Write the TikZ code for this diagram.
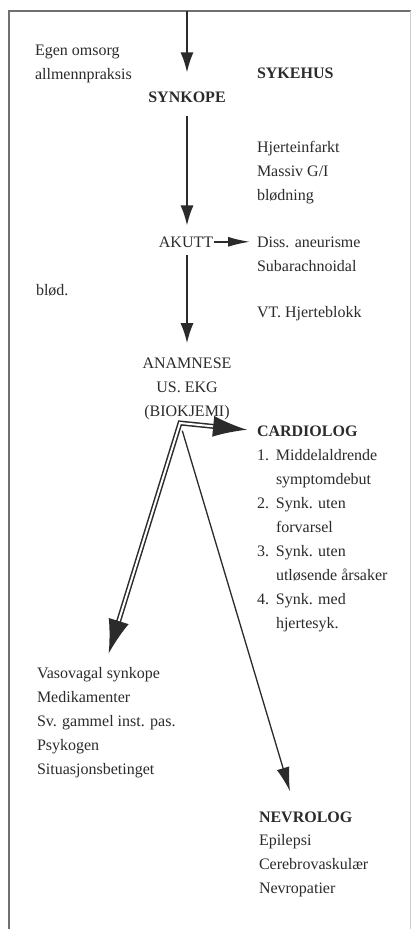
\documentclass[tikz,border=0pt]{standalone}
\usepackage{fontspec}
\setmainfont{Liberation Serif}
\usetikzlibrary{arrows.meta}
\definecolor{ink}{HTML}{2B2B2B}
\definecolor{framegray}{HTML}{707070}
% stacked lines, baseline on the first line
\newcommand\txtlines[1]{\begin{tabular}[t]{@{}l@{}}#1\end{tabular}}
\newcommand\itemnum[1]{\makebox[19pt][l]{#1}}
\newcommand\itemgap{\hspace*{19pt}}
\begin{document}
\begin{tikzpicture}[x=1pt,y=-1pt,
  txt/.style={inner sep=0pt, outer sep=0pt, text=ink,
    font=\fontsize{16}{24}\selectfont, anchor=base west},
  head/.style={txt, font=\fontsize{16}{24}\selectfont\bfseries},
  arr/.style={draw=ink, line width=1.6pt, -{Latex[length=20pt,width=13pt]}},
  sidearr/.style={draw=ink, line width=1.6pt, -{Latex[length=22pt,width=10pt]}},
  thinarr/.style={draw=ink, line width=1.3pt, -{Latex[length=24pt,width=13pt]}},
  dbl/.style={draw=ink, line width=1.5pt, double=white, double distance=2pt,
    line join=miter, {Latex[length=34pt,width=21pt]}-{Latex[length=34pt,width=21pt]}}
]
\useasboundingbox (0,0) rectangle (411,929);
\fill[white] (0,0) rectangle (411,929);

% frame
\draw[framegray, line width=2.2pt] (9,929) -- (9,11) -- (411,11);
\draw[framegray!35, line width=1pt] (410,11) -- (410,929);

% text blocks
\node[txt] (egen) at (35,55) {\txtlines{Egen omsorg\\allmennpraksis}};
\node[head] (sykehus) at (257,78) {SYKEHUS};
\node[head, anchor=base] (synkope) at (187,102) {SYNKOPE};
\node[txt] (hjerte) at (257,152) {\txtlines{Hjerteinfarkt\\Massiv G/I\\blødning}};
\node[txt, anchor=base] (akutt) at (186,247) {AKUTT};
\node[txt] (diss) at (257,247) {\txtlines{Diss. aneurisme\\Subarachnoidal}};
\node[txt] (blod) at (36,295) {blød.};
\node[txt] (vt) at (257,317) {VT. Hjerteblokk};
\node[txt, anchor=base] (anamnese) at (187,368)
  {\begin{tabular}[t]{@{}c@{}}ANAMNESE\\US. EKG\\(BIOKJEMI)\end{tabular}};
\node[head] (cardhead) at (257,436) {CARDIOLOG};
\node[txt] (cardlist) at (257,460) {\txtlines{%
  \itemnum{1.}Middelaldrende\\
  \itemgap symptomdebut\\
  \itemnum{2.}Synk. uten\\
  \itemgap forvarsel\\
  \itemnum{3.}Synk. uten\\
  \itemgap utløsende årsaker\\
  \itemnum{4.}Synk. med\\
  \itemgap hjertesyk.}};
\node[txt] (vaso) at (37,678) {\txtlines{Vasovagal synkope\\Medikamenter\\Sv. gammel inst. pas.\\Psykogen\\Situasjonsbetinget}};
\node[head] (nevhead) at (259,822) {NEVROLOG};
\node[txt] (nevlist) at (259,845) {\txtlines{Epilepsi\\Cerebrovaskulær\\Nevropatier}};

% junction points
\coordinate (top) at (187,11);
\coordinate (apex) at (180,423);

% connectors
\draw[arr, shorten >=19pt] (top) -- (top |- synkope.north);
\draw[arr, shorten <=14pt, shorten >=11pt] (synkope.south) -- (synkope.south |- akutt.north);
\draw[sidearr, shorten <=1pt, shorten >=7pt] (akutt.east) -- (akutt.east -| diss.west);
\draw[arr, shorten <=8pt, shorten >=8pt] (akutt.south -| synkope.south) -- (synkope.south |- anamnese.north);
\draw[dbl, shorten <=10pt, shorten >=8pt] (cardhead.west) -- (apex) -- (vaso.north);
\draw[thinarr, shorten <=8pt, shorten >=21pt] (apex) -- ([xshift=37pt]nevhead.north west);
\end{tikzpicture}
\end{document}
